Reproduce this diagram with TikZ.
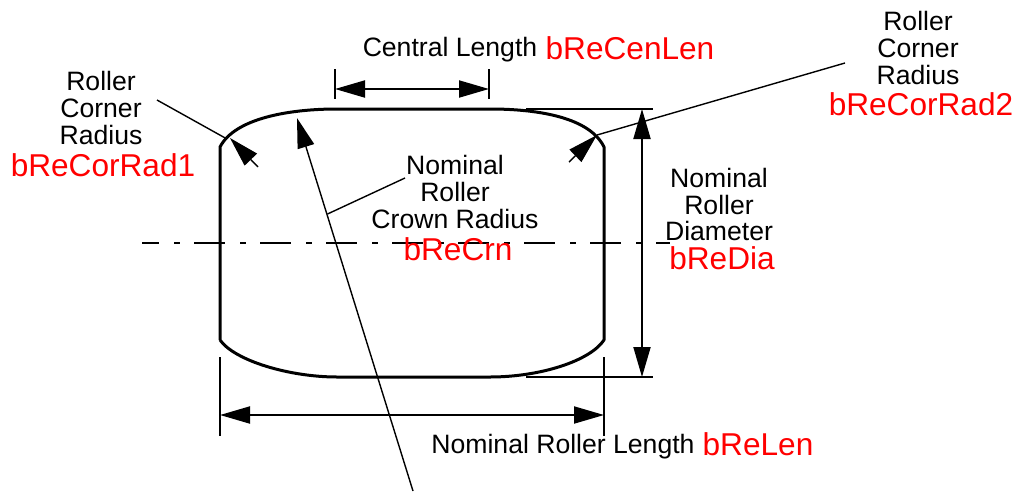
\documentclass[tikz,border=0pt]{standalone}
\usepackage{fontspec}
\setmainfont{Liberation Sans}
\usetikzlibrary{arrows.meta}
\tikzset{
  lbl/.style={inner sep=0pt,align=center,text=black,font=\fontsize{26.6}{26.7}\selectfont},
  redlbl/.style={inner sep=0pt,text=red,font=\fontsize{31.6}{30}\selectfont},
  body/.style={line width=3pt,line join=round},
  dimline/.style={line width=2pt},
  thin leader/.style={line width=1.4pt},
  tip/.style={-{Triangle[length=30pt,width=17pt]},shorten >=0pt},
  tips/.style={{Triangle[length=30pt,width=17pt]}-{Triangle[length=30pt,width=17pt]}},
  centerline/.style={line width=2pt,dash pattern=on 31pt off 15pt on 5.5pt off 14.5pt,dash phase=14pt}
}
\begin{document}
\begin{tikzpicture}[x=1pt,y=-1pt]
\useasboundingbox (0,0) rectangle (1018,491);
% roller outline
\coordinate (tl) at (220,147); \coordinate (tla) at (337,109);
\coordinate (tra) at (490,109); \coordinate (tr) at (604,147);
\coordinate (bl) at (220,340); \coordinate (bla) at (337,377);
\coordinate (bra) at (490,377); \coordinate (br) at (604,340);
\draw[body] (bl) -- (tl) .. controls (235,118) and (290,109) .. (tla) -- (tra)
  .. controls (540,109) and (590,118) .. (tr) -- (br)
  .. controls (590,361) and (540,377) .. (bra) -- (bla)
  .. controls (290,377) and (235,361) .. (bl);
% centre line
\coordinate (cl1) at (142,243); \coordinate (cl2) at (670,243);
\draw[centerline] (cl1) -- (cl2);
% central length
\coordinate (cla) at (335,69); \coordinate (clb) at (335,99);
\coordinate (clc) at (489,69); \coordinate (cld) at (489,99);
\coordinate (cle) at (335,89); \coordinate (clf) at (489,89);
\draw[dimline] (cla) -- (clb);
\draw[dimline] (clc) -- (cld);
\draw[dimline,tips] (cle) -- (clf);
% roller length
\coordinate (rla) at (220,357); \coordinate (rlb) at (220,436);
\coordinate (rlc) at (604,357); \coordinate (rld) at (604,436);
\coordinate (rle) at (220,415); \coordinate (rlf) at (604,415);
\draw[dimline] (rla) -- (rlb);
\draw[dimline] (rlc) -- (rld);
\draw[dimline,tips] (rle) -- (rlf);
% diameter
\coordinate (da) at (526,109); \coordinate (db) at (653,109);
\coordinate (dc) at (526,377); \coordinate (dd) at (653,377);
\coordinate (de) at (642,109); \coordinate (df) at (642,377);
\draw[dimline] (da) -- (db);
\draw[dimline] (dc) -- (dd);
\draw[dimline,tips] (de) -- (df);
% crown radius
\coordinate (cra) at (413,491); \coordinate (crb) at (297,118);
\coordinate (crc) at (327.5,214); \coordinate (crd) at (405,178);
\draw[thin leader,tip] (cra) -- (crb);
\draw[thin leader] (crc) -- (crd);
% corner radius 1
\coordinate (c1a) at (157,100); \coordinate (c1b) at (227,139);
\coordinate (c1c) at (258,167); \coordinate (c1d) at (230,138);
\draw[thin leader] (c1a) -- (c1b);
\draw[thin leader,tip] (c1c) -- (c1d);
% corner radius 2
\coordinate (c2a) at (845,63); \coordinate (c2b) at (597,135);
\coordinate (c2c) at (569,162); \coordinate (c2d) at (597,135);
\draw[thin leader] (c2a) -- (c2b);
\draw[thin leader,tip] (c2c) -- (c2d);
% labels
\node[lbl] (l1) at (101,108) {Roller\\Corner\\Radius};
\node[redlbl] (r1) at (103,165) {bReCorRad1};
\node[lbl] (l2) at (918,48) {Roller\\Corner\\Radius};
\node[redlbl] (r2) at (921,104) {bReCorRad2};
\node[lbl] (l3) at (450,50) {Central Length};
\node[redlbl] (r3) at (630,48) {bReCenLen};
\node[lbl] (l4) at (455,192) {Nominal\\Roller\\Crown Radius};
\node[redlbl] (r4) at (458,249) {bReCrn};
\node[lbl] (l5) at (719,204.5) {Nominal\\Roller\\Diameter};
\node[redlbl] (r5) at (722,258.5) {bReDia};
\node[lbl] (l6) at (563,447) {Nominal Roller Length};
\node[redlbl] (r6) at (758,444) {bReLen};
\end{tikzpicture}
\end{document}
